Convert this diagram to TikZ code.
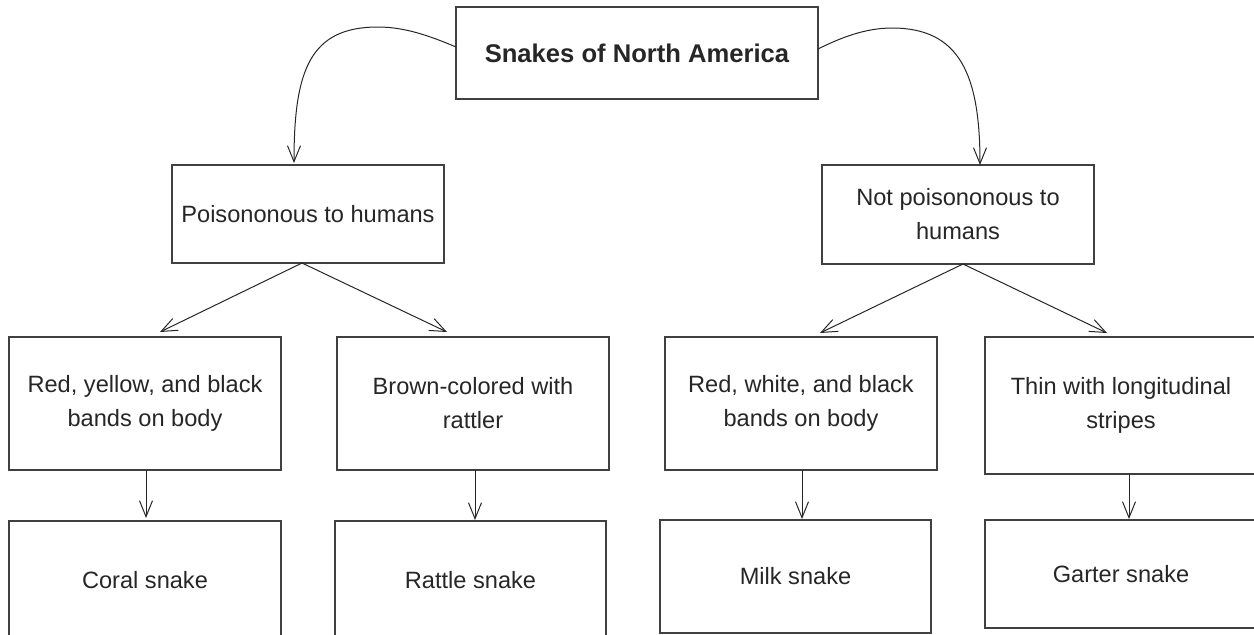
\documentclass[tikz,border=0pt]{standalone}
\usepackage{fontspec}
\setmainfont{Liberation Sans}
\usetikzlibrary{arrows.meta,calc}
\begin{document}
\begin{tikzpicture}[x=0.5pt,y=-0.5pt,
  box/.style={draw=black!75, line width=0.7pt, inner sep=0pt, outer sep=0pt,
    align=center, text=black!85, font=\fontsize{11.8}{17}\selectfont},
  conn/.style={draw=black!85, line width=0.5pt,
    -{Straight Barb[length=8pt,width=6.5pt]}}]
\useasboundingbox (0,0) rectangle (1254,634);
\clip (0,0) rectangle (1254,634);
% nodes
\node[box, minimum width=181pt, minimum height=46pt,
  font=\fontsize{12.8}{15}\selectfont\bfseries] (top) at (637,53) {Snakes of North America};
\node[box, minimum width=136pt, minimum height=49pt] (pois) at (308,214) {Poisononous to humans};
\node[box, minimum width=136pt, minimum height=49.5pt] (notp) at (958,214.5) {Not poisononous to\\humans};
\node[box, minimum width=136pt, minimum height=66.5pt] (ry) at (145,403.5) {Red, yellow, and black\\bands on body};
\node[box, minimum width=136pt, minimum height=66.5pt] (br) at (473,403.5) {Brown-colored with\\rattler};
\node[box, minimum width=136pt, minimum height=66.5pt] (rw) at (801,403.5) {Red, white, and black\\bands on body};
\node[box, minimum width=136pt, minimum height=68.5pt] (th) at (1121,405.5) {Thin with longitudinal\\stripes};
\node[box, minimum width=136pt, minimum height=59.5pt] (coral) at (145,580.5) {Coral snake};
\node[box, minimum width=135.5pt, minimum height=59.5pt] (rattle) at (470.5,580.5) {Rattle snake};
\node[box, minimum width=135.5pt, minimum height=56.5pt] (milk) at (795.5,576.5) {Milk snake};
\node[box, minimum width=136pt, minimum height=54pt] (garter) at (1121,574) {Garter snake};
% curved connectors from the title
\draw[conn] ([yshift=3pt]top.west) .. controls (430,36) and (405,27) .. (378,27)
  .. controls (310,27) and (294,70) .. ([xshift=-7pt,yshift=1pt]pois.north);
\draw[conn] ([yshift=2pt]top.east) .. controls (840,38) and (865,28) .. (892,28)
  .. controls (960,28) and (980,75) .. ([xshift=11pt]notp.north);
% branching connectors
\draw[conn] ([xshift=-3pt]pois.south) -- ([xshift=7.5pt,yshift=2.5pt]ry.north);
\draw[conn] ([xshift=-3pt]pois.south) -- ([xshift=-13pt,yshift=2.5pt]br.north);
\draw[conn] ([xshift=2.5pt]notp.south) -- ([xshift=9.5pt,yshift=2pt]rw.north);
\draw[conn] ([xshift=2.5pt]notp.south) -- ([xshift=-7pt,yshift=2pt]th.north);
% vertical connectors
\draw[conn, shorten >=1.5pt] ([xshift=0.5pt]ry.south) -- ([xshift=0.5pt]ry.south |- coral.north);
\draw[conn, shorten >=0.5pt] ([xshift=1pt]br.south) -- ([xshift=1pt]br.south |- rattle.north);
\draw[conn, shorten >=0.5pt] ([xshift=0.5pt]rw.south) -- ([xshift=0.5pt]rw.south |- milk.north);
\draw[conn, shorten >=0.5pt] ([xshift=4pt]th.south) -- ([xshift=4pt]th.south |- garter.north);
\end{tikzpicture}
\end{document}
